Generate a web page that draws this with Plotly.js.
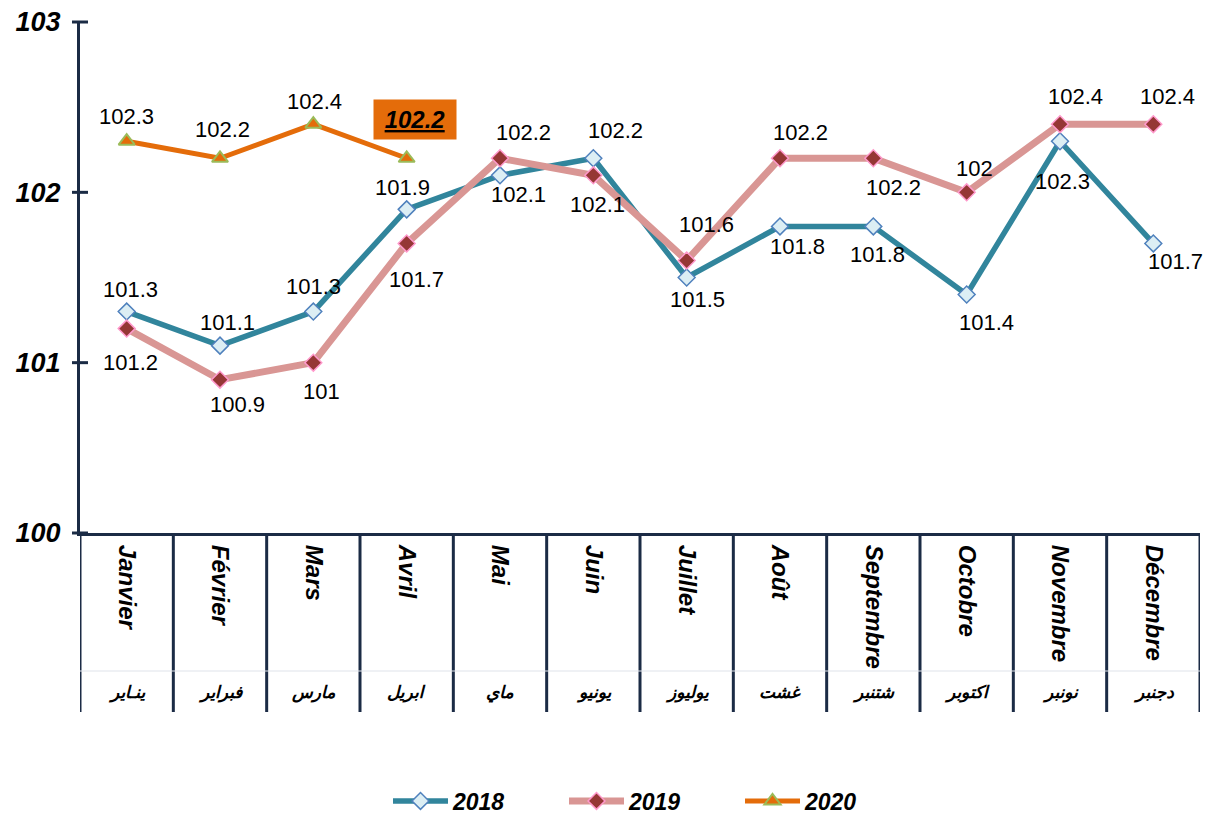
<!DOCTYPE html>
<html><head><meta charset="utf-8">
<script src="https://cdn.plot.ly/plotly-3.0.1.min.js"></script>
<style>html,body{margin:0;padding:0;background:#fff}#chart{width:1212px;height:816px}</style>
</head><body><div id="chart"></div>
<script>
// ---- data ----
const monthsFr = ['Janvier','Février','Mars','Avril','Mai','Juin','Juillet','Août','Septembre','Octobre','Novembre','Décembre'];
const monthsAr = ['ينـاير','فبراير','مارس','ابريل','ماي','يونيو','يوليوز','غشت','شتنبر','اكتوبر','نونبر','دجنبر'];
const values2018 = [101.3,101.1,101.3,101.9,102.1,102.2,101.5,101.8,101.8,101.4,102.3,101.7];
const values2019 = [101.2,100.9,101.0,101.7,102.2,102.1,101.6,102.2,102.2,102.0,102.4,102.4];
const values2020 = [102.3,102.2,102.4,102.2];
const seriesNames = ['2018','2019','2020'];
const yTicks = [100,101,102,103];

// ---- label placement (pixel offsets, down = positive) ----
const off2018 = [[4,-22],[7,-23],[0,-25],[-4,-22],[18,19],[22,-28],[11,22],[17,20],[4,28],[20,28],[2,40],[22,18]];
const off2019 = [[4,34],[17,25],[8,29],[10,36],[23,-26],[4,29],[20,-36],[20,-26],[20,29],[8,-24],[15,-28],[14,-28]];
const off2020 = [[0,-25],[2,-29],[1,-23],[8,-39]];

// ---- geometry ----
const W = 1212, H = 816;
const M = {l:80, r:12, t:22, b:283};
const plotW = W - M.l - M.r, plotH = H - M.t - M.b;
const yMin = 100, yMax = 103;
const pyFromPx = px => (H - M.b - px) / plotH;   // pixel row -> paper y
const pxW = px => px / plotW;                    // pixel width -> paper x

const navy = '#1b2b45';
const FONT = 'Liberation Sans, Arial, sans-serif';

const traces = [
  {x: monthsFr, y: values2018, name: seriesNames[0], type:'scatter', mode:'lines+markers',
   line:{color:'#31859C', width:5.5},
   marker:{symbol:'diamond', size:13, color:'#DCEEF4', line:{color:'#4F81BD', width:1.5}}},
  {x: monthsFr, y: values2019, name: seriesNames[1], type:'scatter', mode:'lines+markers',
   line:{color:'#D99694', width:7},
   marker:{symbol:'diamond', size:13, color:'#953735', line:{color:'#FF99CC', width:1.5}}},
  {x: monthsFr.slice(0, values2020.length), y: values2020, name: seriesNames[2], type:'scatter', mode:'lines+markers',
   line:{color:'#E46C0A', width:5},
   marker:{symbol:'triangle-up', size:14, color:'#E46C0A', line:{color:'#9BBB59', width:2}}}
];

const annotations = [];
function addLabels(vals, offs, skipLast) {
  vals.forEach((v, i) => {
    if (skipLast && i === vals.length - 1) return;
    annotations.push({x: i, y: v, xref:'x', yref:'y', text: String(v), showarrow:false,
      xshift: offs[i][0], yshift: -offs[i][1], xanchor:'center', yanchor:'middle',
      font:{family:FONT, size:22, color:'#000'}});
  });
}
addLabels(values2018, off2018, false);
addLabels(values2019, off2019, false);
addLabels(values2020, off2020, true);
// highlighted latest value
const li = values2020.length - 1;
annotations.push({x: li, y: values2020[li], xref:'x', yref:'y',
  text: '<b><i><u>' + values2020[li] + '</u></i></b>', showarrow:false,
  xshift: off2020[li][0], yshift: -off2020[li][1], xanchor:'center', yanchor:'middle',
  bgcolor:'#E46C0A', width:74, height:31, borderpad:4,
  font:{family:FONT, size:24, color:'#000'}});
// Arabic month labels
monthsAr.forEach((t, i) => {
  annotations.push({x: i, y: pyFromPx(692), xref:'x', yref:'paper', text: '<b><i>' + t + '</i></b>',
    showarrow:false, xanchor:'center', yanchor:'middle',
    font:{family:'DejaVu Sans, sans-serif', size:17, color:'#000'}});
});

const shapes = [];
// category separators below the axis
for (let i = 0; i <= monthsFr.length; i++) {
  shapes.push({type:'line', xref:'x', yref:'paper', x0: i - 0.5, x1: i - 0.5,
    y0: 0, y1: pyFromPx(712), line:{color:navy, width:3}});
}
// faint row divider
shapes.push({type:'line', xref:'paper', yref:'paper', x0:0, x1:1, y0:pyFromPx(671), y1:pyFromPx(671),
  line:{color:'#dfe3ea', width:1}});
// cross ticks on y axis
yTicks.forEach(v => {
  const py = (v - yMin) / (yMax - yMin);
  shapes.push({type:'line', xref:'paper', yref:'paper', x0: -pxW(8), x1: pxW(8), y0: py, y1: py,
    line:{color:navy, width:3}});
});

const layout = {
  width: W, height: H, margin: Object.assign({autoexpand:false}, M),
  paper_bgcolor:'#fff', plot_bgcolor:'#fff',
  showlegend: true,
  legend: {orientation:'h', xref:'container', yref:'container',
    x: 388 / W, xanchor:'left', y: 1 - 801 / H, yanchor:'middle',
    entrywidth:106, entrywidthmode:'pixels', itemwidth:55,
    font:{family:FONT, size:23, weight:'bold', style:'italic', color:'#000'}},
  xaxis: {type:'category', categoryarray: monthsFr, range:[-0.5, monthsFr.length - 0.5],
    showline:true, linecolor:navy, linewidth:3, showgrid:false, zeroline:false, automargin:false,
    ticks:'', tickangle:90, ticklabelstandoff:4,
    tickfont:{family:FONT, size:24, weight:'bold', style:'italic', color:'#000'}},
  yaxis: {range:[yMin, yMax], tickvals: yTicks, ticktext: yTicks.map(String),
    showline:true, linecolor:navy, linewidth:3, showgrid:false, zeroline:false, automargin:false,
    ticks:'', ticklabelstandoff:11,
    tickfont:{family:FONT, size:27, weight:'bold', style:'italic', color:'#000'}},
  annotations, shapes
};

Plotly.newPlot('chart', traces, layout, {displayModeBar:false, staticPlot:true});
</script></body></html>
